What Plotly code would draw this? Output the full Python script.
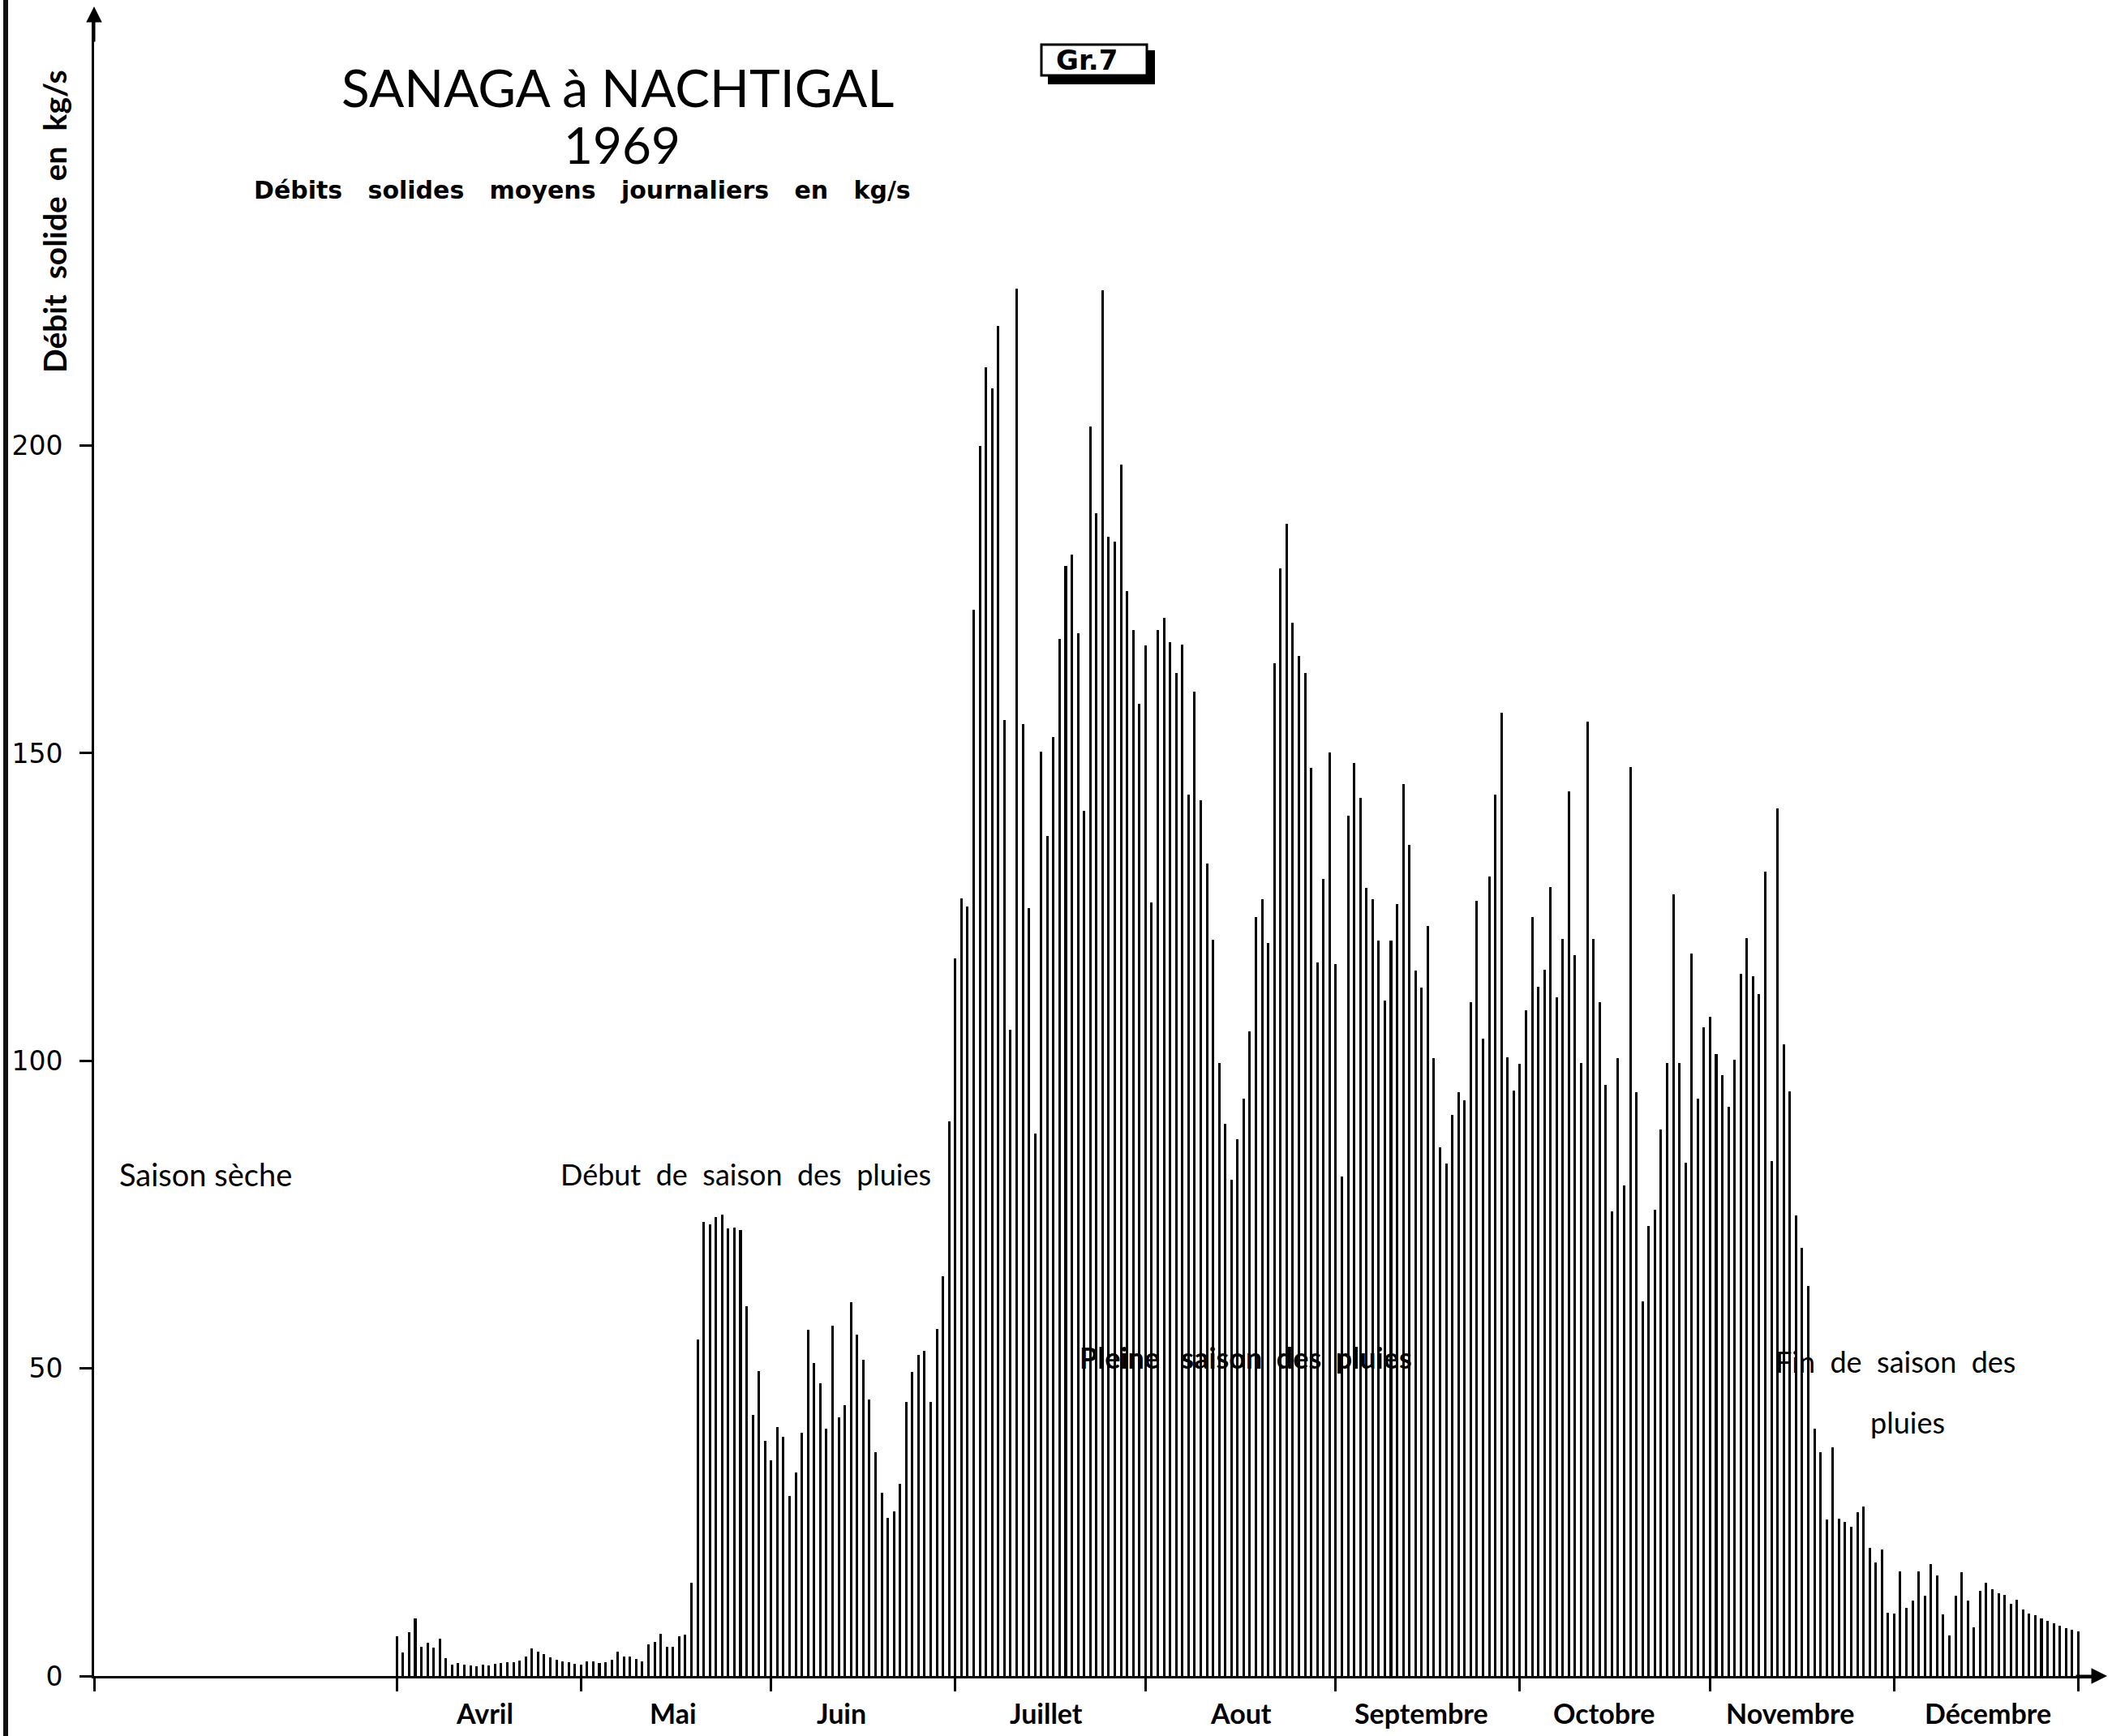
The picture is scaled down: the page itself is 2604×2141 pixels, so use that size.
import pandas as pd
import plotly.graph_objects as go

# ---------------- data (kg/s, daily means, 1969) ----------------
april = [6.4, 3.8, 7.1, 9.4, 4.8, 5.4, 4.6, 6.1, 2.9, 1.8, 2.1, 1.8, 1.7, 1.6, 1.8,
         1.7, 2.0, 2.1, 2.2, 2.3, 2.5, 3.1, 4.5, 4.0, 3.5, 3.0, 2.6, 2.4, 2.3, 2.0]
may = [1.8, 2.4, 2.4, 2.1, 2.3, 2.6, 3.9, 3.2, 3.1, 2.8, 2.4, 5.2, 5.6, 6.8, 4.7, 4.7,
       6.5, 6.7, 15.1, 54.7, 73.8, 73.4, 74.6, 75.0, 72.7, 72.9, 72.5, 60.1, 42.5, 49.5, 38.2]
june = [35.1, 40.4, 38.9, 29.3, 33.1, 39.5, 56.3, 50.9, 47.6, 40.2, 57.0, 42.0, 44.0, 60.8, 55.5,
        51.4, 45.0, 36.4, 29.8, 25.7, 26.8, 31.2, 44.5, 49.4, 52.2, 52.8, 44.5, 56.4, 65.0, 90.1]
july = [116.6, 126.4, 125.1, 173.3, 199.9, 212.7, 209.3, 219.4, 155.4, 105.1, 225.5, 154.8, 124.8,
        88.2, 150.2, 136.5, 152.6, 168.6, 180.5, 182.3, 169.5, 140.7, 203.1, 189.0, 225.2, 185.2,
        184.4, 196.9, 176.3, 170.0, 158.0]
august = [167.5, 125.7, 170.0, 172.0, 168.0, 163.1, 167.7, 143.3, 160.0, 142.3, 132.1, 119.7, 99.6,
          89.7, 80.6, 87.2, 93.9, 104.8, 123.4, 126.3, 119.1, 164.6, 180.1, 187.3, 171.2, 165.8,
          163.1, 147.6, 116.0, 129.6, 150.1]
september = [115.7, 81.2, 139.9, 148.4, 142.7, 128.1, 126.3, 119.6, 109.8, 119.6, 125.5, 145.0,
             135.1, 114.7, 111.9, 121.9, 100.5, 86.0, 83.3, 91.2, 94.9, 93.6, 109.5, 126.0, 103.6,
             129.9, 143.3, 156.6, 100.6, 95.1]
october = [99.5, 108.2, 123.4, 112.1, 114.8, 128.3, 110.3, 119.8, 143.8, 117.2, 99.7, 155.1, 119.8,
           109.5, 96.1, 75.5, 100.5, 79.8, 147.8, 94.9, 60.9, 73.1, 75.8, 88.9, 99.7, 127.0, 99.7,
           83.4, 117.4, 93.8, 105.4]
november = [107.1, 101.1, 97.7, 92.5, 100.2, 114.2, 119.9, 113.8, 110.9, 130.8, 83.7, 141.0, 102.7,
            95.0, 74.8, 69.6, 63.4, 40.2, 36.4, 25.5, 37.2, 25.6, 25.1, 24.2, 26.6, 27.5, 20.8,
            18.4, 20.6, 10.3]
december = [10.1, 17.0, 11.1, 12.2, 17.0, 13.1, 18.2, 16.4, 10.0, 6.6, 13.0, 16.9, 12.2, 7.9, 13.8,
            15.2, 14.1, 13.5, 13.2, 11.7, 12.4, 10.8, 10.2, 9.9, 9.4, 9.0, 8.6, 8.2, 7.8, 7.5, 7.3]

month_ticks = ["1969-04-01", "1969-05-01", "1969-06-01", "1969-07-01", "1969-08-01",
               "1969-09-01", "1969-10-01", "1969-11-01", "1969-12-01", "1969-12-31"]
month_names = ["Avril", "Mai", "Juin", "Juillet", "Aout", "Septembre", "Octobre",
               "Novembre", "Décembre"]
month_label_pos = ["1969-04-15 08:00", "1969-05-16 00:00", "1969-06-12 12:00", "1969-07-15 19:00",
                   "1969-08-16 12:00", "1969-09-14 22:00", "1969-10-14 17:00", "1969-11-14 02:00",
                   "1969-12-16 07:00"]
y_ticks = [0, 50, 100, 150, 200]
y_ticktext = ["0", "50", "100", "150", "200"]

values = april + may + june + july + august + september + october + november + december
dates = pd.date_range("1969-04-01", "1969-12-31", freq="D")

# ---------------- geometry ----------------
W, H = 2604, 2141
PL, PR, PT, PB = 116, 2590, 15, 2067
DAY = 86400000
t0 = pd.Timestamp("1969-04-01")
x_start = t0 - pd.Timedelta(days=49.34)
x_end = t0 + pd.Timedelta(days=277.65)
y_top = (PB - PT) / 7.587


def fx(px):
    return (px - PL) / (PR - PL)


def fy(py):
    return (PB - py) / (PB - PT)


fig = go.Figure()
fig.add_trace(go.Bar(x=dates, y=values, width=0.4 * DAY,
                     marker=dict(color="black", line=dict(width=0)),
                     hoverinfo="x+y", showlegend=False))

xticks = [x_start.strftime("%Y-%m-%d %H:%M:%S")] + month_ticks

fig.update_layout(
    width=W, height=H,
    margin=dict(l=PL, r=W - PR, t=PT, b=H - PB, pad=0),
    paper_bgcolor="white", plot_bgcolor="white",
    bargap=0,
    xaxis=dict(type="date",
               range=[x_start.strftime("%Y-%m-%d %H:%M:%S"), x_end.strftime("%Y-%m-%d %H:%M:%S")],
               showline=True, linecolor="black", linewidth=3,
               tickvals=xticks, ticks="outside", ticklen=16, tickwidth=3, tickcolor="black",
               showticklabels=False, showgrid=False, zeroline=False),
    yaxis=dict(range=[0, y_top], showline=True, linecolor="black", linewidth=3,
               tickvals=y_ticks, ticktext=y_ticktext, ticks="outside", ticklen=15,
               tickwidth=3, tickcolor="black", ticklabelstandoff=14,
               tickfont=dict(family="DejaVu Sans", size=33, color="black"),
               showgrid=False, zeroline=False),
    font=dict(family="Lato", color="black"),
)

ann = []
# month labels under the axis
for name, pos in zip(month_names, month_label_pos):
    ann.append(dict(x=pos, xref="x", y=fy(2112), yref="paper", text=name, showarrow=False,
                    xanchor="center", yanchor="middle",
                    font=dict(family="Lato", size=34, color="black", weight="bold")))

NB = "\u00a0"


def txt(x, y, s, size, bold=False, family="Lato", anchor="center"):
    f = dict(family=family, size=size, color="black")
    if bold:
        f["weight"] = "bold"
    ann.append(dict(x=fx(x), y=fy(y), xref="paper", yref="paper", text=s, showarrow=False,
                    xanchor=anchor, yanchor="middle", font=f))


txt(761, 108, "SANAGA à NACHTIGAL", 64)
txt(767, 178, "1969", 62)
gap = NB * 3
txt(718, 234, gap.join(["Débits", "solides", "moyens", "journaliers", "en", "kg/s"]), 30,
    bold=True, family="DejaVu Sans")
txt(253, 1448, "Saison sèche", 38)
txt(919, 1448, (NB * 2).join(["Début", "de", "saison", "des", "pluies"]), 36)
txt(1536, 1674, "Pleine" + NB * 3 + (NB * 2).join(["saison", "des", "pluies"]), 36, bold=True)
txt(2337, 1679, (NB * 2).join(["Fin", "de", "saison", "des"]), 36)
txt(2352, 1754, "pluies", 36)
txt(1340, 74, "Gr.7", 34, bold=True, family="DejaVu Sans")

# y axis title (vertical)
ann.append(dict(x=fx(67), y=fy(273), xref="paper", yref="paper",
                text=(NB * 2).join(["Débit", "solide", "en", "kg/s"]),
                textangle=-90, showarrow=False, xanchor="center", yanchor="middle",
                font=dict(family="Lato", size=39, color="black", weight="bold")))

# axis arrow heads
ann.append(dict(x=0, y=fy(8), xref="paper", yref="paper", ax=0, ay=45, text="",
                showarrow=True, arrowhead=2, arrowsize=1.3, arrowwidth=3, arrowcolor="black"))
ann.append(dict(x=fx(2598), y=0, xref="paper", yref="paper", ax=-40, ay=0, text="",
                showarrow=True, arrowhead=2, arrowsize=1.3, arrowwidth=3, arrowcolor="black"))

fig.update_layout(annotations=ann)

shapes = [
    # page edge line on the far left
    dict(type="line", xref="paper", yref="paper", x0=fx(7), x1=fx(7), y0=fy(0), y1=fy(H),
         line=dict(color="#111", width=6)),
    # "Gr.7" box: shadow then box
    dict(type="rect", xref="paper", yref="paper", x0=fx(1292), x1=fx(1424), y0=fy(104), y1=fy(62),
         fillcolor="black", line=dict(width=0)),
    dict(type="rect", xref="paper", yref="paper", x0=fx(1284), x1=fx(1414), y0=fy(93), y1=fy(55),
         fillcolor="white", line=dict(color="black", width=3)),
]
fig.update_layout(shapes=shapes)

fig.write_html("out.html")
